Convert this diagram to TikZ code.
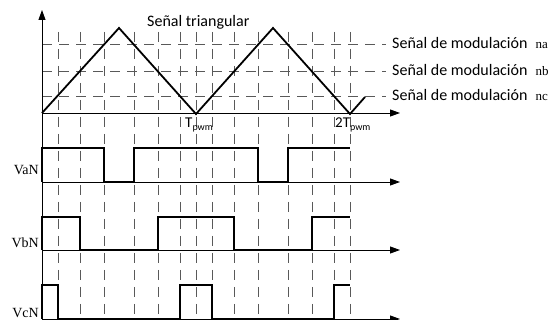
\documentclass[tikz,border=0pt]{standalone}
\usepackage{fontspec}
\setmainfont{Liberation Serif}
\setsansfont{Carlito}
\usetikzlibrary{arrows.meta, positioning, calc}

\newcommand{\modsub}[1]{{\rmfamily\fontsize{13}{13}\selectfont #1}}
\newcommand{\pwmsub}{\raisebox{-3pt}{\fontsize{10}{10}\selectfont pwm}}

\tikzset{
  axisline/.style={-{Triangle[length=10pt, width=7pt]}, line width=0.9pt},
  gridline/.style={line width=0.8pt, color=black!65, dash pattern=on 10pt off 7pt},
  carrier/.style={line width=1.8pt, line join=miter},
  wave/.style={line width=1.8pt},
  sigtext/.style={font=\sffamily\fontsize{16}{16}\selectfont, inner sep=0pt, anchor=base west},
  voltlabel/.style={font=\rmfamily\fontsize{14}{14}\selectfont, inner sep=0pt, anchor=east},
  timetext/.style={font=\sffamily\fontsize{15}{15}\selectfont, inner sep=0pt, anchor=base west}
}

\begin{document}
\begin{tikzpicture}[x=1pt, y=-1pt]

  \useasboundingbox (0,0) rectangle (560,320);

  % ── Dashed grid ──
  \foreach \lvl in {44, 71, 96}
    \draw[gridline] (42,\lvl) -- (386,\lvl);
  \foreach \xv in {58, 80, 104, 134, 158, 180, 196, 212, 234, 258, 288, 312, 334, 350}
    \draw[gridline] (\xv,32) -- (\xv,320);

  % ── Axes ──
  \draw[axisline] (42,320) -- (42,10);
  \draw[axisline] (42,113) -- (400,113);
  \draw[axisline] (42,182) -- (400,182);
  \draw[axisline] (42,250) -- (400,250);
  \draw[axisline] (42,319) -- (400,319);

  % ── Triangular carrier ──
  \draw[carrier] (42,113) -- (119,28) -- (196,114) -- (273,28) -- (350,114) -- (365,97);

  % ── Switching waveforms ──
  \draw[wave] (42,182) -- (42,148) -- (104,148) -- (104,182) -- (134,182) -- (134,148)
              -- (258,148) -- (258,182) -- (288,182) -- (288,148) -- (350,148);
  \draw[wave] (42,250) -- (42,217) -- (80,217) -- (80,250) -- (158,250) -- (158,217)
              -- (234,217) -- (234,250) -- (312,250) -- (312,217) -- (350,217);
  \draw[wave] (42,319) -- (42,285) -- (58,285) -- (58,319) -- (180,319) -- (180,285)
              -- (212,285) -- (212,319) -- (334,319) -- (334,285) -- (350,285);

  % ── Labels ──
  \node[sigtext] (tri) at (147,27) {Señal triangular};
  \node[sigtext] (moda) at (392,49) {Señal de modulación\hspace{8pt}\modsub{na}};
  \node[sigtext] (modb) at (392,76) {Señal de modulación\hspace{8pt}\modsub{nb}};
  \node[sigtext] (modc) at (392,101) {Señal de modulación\hspace{8pt}\modsub{nc}};

  \node[timetext] (tpwm) at (185,128) {T\pwmsub};
  \node[timetext] (ttpwm) at (335,128) {2T\pwmsub};

  \node[voltlabel] (van) at (39,170) {VaN};
  \node[voltlabel] (vbn) at (39,243) {VbN};
  \node[voltlabel] (vcn) at (39,313) {VcN};

\end{tikzpicture}
\end{document}
